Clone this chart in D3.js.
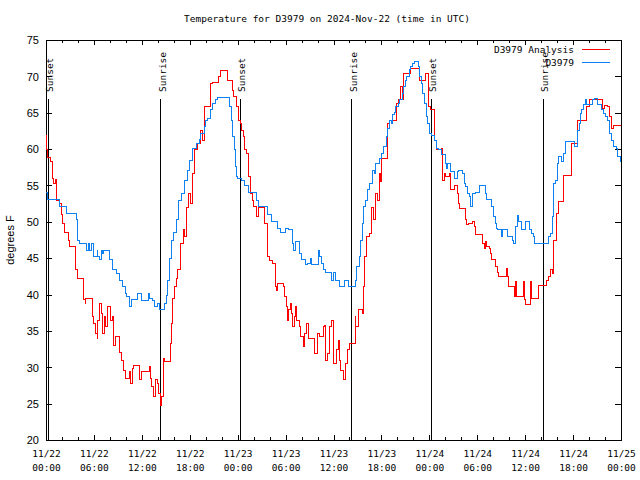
<!DOCTYPE html>
<html>
<head>
<meta charset="utf-8">
<script src="https://cdn.jsdelivr.net/npm/d3@7"></script>
<style>
  html, body { margin: 0; padding: 0; background: #fff; }
  svg { display: block; }
</style>
</head>
<body>
<svg id="chart" width="640" height="480"></svg>
<script>
// ---------------- DATA ----------------
const titleText = "Temperature for D3979 on 2024-Nov-22 (time in UTC)";
const yAxisLabel = "degrees F";
const seriesNames = ["D3979 Analysis", "D3979"];
const startTime = "2024-11-22T00:00:00Z";
const endTime = "2024-11-25T00:00:00Z";
const yTickValues = [20, 25, 30, 35, 40, 45, 50, 55, 60, 65, 70, 75];

// hours since 11/22 00:00 UTC
const analysisHours = [0,0.1,0.2,0.6,0.8,1.0,1.2,1.3,1.7,1.9,2.1,2.3,2.8,2.9,3.7,3.9,4.75,4.9,5.0,5.8,6.0,6.2,6.4,6.5,6.7,6.9,7.1,7.3,7.5,7.75,8.1,8.3,8.4,8.7,9.25,9.5,9.7,10.0,10.4,10.6,10.8,10.9,11.7,12.0,12.9,13.1,13.2,13.4,13.7,13.9,14.1,14.3,14.5,14.75,14.9,15.6,15.7,15.9,16.1,16.4,16.5,16.8,17.2,17.4,17.6,17.9,18.1,18.3,18.6,18.95,19.4,19.6,19.8,20.6,20.9,21.6,21.9,22.7,23.3,23.5,23.8,24.1,24.4,24.5,24.7,24.9,25.1,25.3,25.6,25.8,26.0,26.3,26.6,27.3,27.7,28.0,28.3,28.7,28.9,29.0,29.7,29.9,30.1,30.3,30.4,30.6,30.7,30.9,31.1,31.3,31.4,31.7,31.9,32.2,32.4,32.6,32.9,33.6,34.0,34.2,34.7,34.9,35.0,35.3,35.5,35.8,36.0,36.4,36.6,36.7,36.9,37.3,37.5,37.7,37.8,38.0,38.7,38.8,39.1,39.6,39.7,39.9,40.1,40.5,40.8,41.0,41.2,41.5,41.7,41.9,42.0,42.7,43.0,43.9,44.2,44.4,44.6,44.8,45.7,46.8,47.5,47.9,48.2,48.7,48.9,49.5,49.7,49.9,50.0,50.5,50.7,51.1,51.5,51.7,51.8,52.5,52.7,52.9,53.4,53.6,53.8,54.7,54.9,55.0,55.2,55.5,55.7,55.8,56.3,56.5,56.7,57.7,57.8,57.9,58.7,58.8,58.9,59.8,59.9,60.0,60.7,60.8,61.7,62.7,62.9,63.2,63.4,63.6,63.9,64.2,64.8,65.8,66.6,67.7,68.0,69.7,69.9,70.3,70.5,70.8,71.0,72.0];
const analysisTemps = [61.9,59.9,58.9,58.3,56.0,55.3,55.8,53.0,52.5,51.0,49.8,48.6,47.4,46.6,43.4,42.2,39.3,38.8,39.5,37.0,36.0,34.7,34.0,36.5,38.8,37.4,34.7,37.0,35.6,38.3,36.5,37.0,33.0,34.2,32.1,31.0,29.6,28.5,29.4,27.8,29.8,30.3,28.3,29.4,30.1,28.5,27.3,26.0,28.3,27.8,26.4,24.8,26.0,31.2,30.8,33.3,36.0,39.5,41.1,42.2,43.4,47.0,48.9,48.0,52.0,53.9,52.5,56.7,59.9,60.8,62.6,61.2,65.8,69.0,69.1,70.0,70.8,69.5,68.1,67.2,65.8,64.0,63.5,62.6,61.7,59.9,59.4,56.2,53.9,53.0,52.1,50.7,52.0,49.8,45.2,44.7,44.3,41.1,40.6,41.5,41.1,39.7,38.3,36.5,37.9,38.8,37.4,35.6,37.0,38.3,36.5,35.6,34.2,32.8,34.7,36.0,34.0,31.9,34.7,34.2,35.6,35.8,31.0,31.9,35.6,36.5,30.5,32.4,33.7,31.0,29.6,28.3,30.5,31.9,32.4,33.3,37.0,35.6,37.9,37.4,41.1,45.2,48.0,48.4,52.0,50.3,53.9,53.0,56.7,55.5,58.7,63.5,64.0,66.3,66.8,68.6,66.8,70.4,71.1,69.5,70.4,65.8,65.4,61.2,59.9,60.1,55.7,56.7,56.2,56.7,54.4,55.0,53.9,52.5,51.8,50.3,49.6,49.8,50.0,49.3,48.2,47.0,46.4,47.3,46.6,46.4,45.7,44.8,43.8,43.1,42.5,43.6,42.5,41.1,39.7,41.8,39.7,41.8,39.3,38.6,41.8,39.5,41.3,42.0,42.5,43.4,42.9,47.5,51.2,52.8,56.4,60.8,64.0,65.8,66.8,65.6,66.0,65.8,64.5,62.9,63.2,63.2];

const stationHours = [0,0.2,1.75,2.6,3.8,3.9,4.0,4.25,5.1,5.3,5.5,5.7,5.9,6.4,6.5,6.75,6.9,7.1,7.25,8.0,8.3,8.8,9.25,9.6,9.9,10.1,10.4,10.7,11.4,11.9,12.8,13.0,13.3,13.6,13.9,14.25,14.9,15.1,15.25,15.5,15.7,16.0,16.3,16.6,17.0,17.3,17.7,18.0,18.3,18.8,19.2,19.4,19.8,20.0,20.2,20.6,20.8,20.9,21.2,21.5,23.0,23.2,23.4,23.6,23.7,23.9,24.0,24.5,24.8,24.9,25.4,26.3,26.6,27.7,28.2,29.0,29.4,30.0,30.4,30.9,31.0,31.2,31.8,32.0,32.5,32.7,33.1,33.2,33.3,34.1,34.3,34.5,34.8,35.0,35.7,36.0,36.2,36.8,37.4,37.9,38.7,38.9,39.2,39.4,39.6,39.8,40.0,40.3,40.5,40.9,41.1,41.3,41.7,42.0,42.2,42.6,42.8,43.0,43.2,43.4,43.6,43.8,44.1,44.3,44.6,44.8,45.0,45.2,45.5,45.7,45.9,46.2,46.6,46.8,47.0,47.2,47.4,47.6,47.8,48.0,48.3,48.7,48.9,49.1,49.5,50.0,50.2,50.3,50.7,51.2,51.5,51.7,52.2,52.4,52.5,52.8,53.0,53.2,53.4,53.8,54.3,55.0,55.2,55.8,56.0,56.3,56.4,56.5,57.0,57.1,57.8,58.4,58.6,58.8,59.0,59.2,59.5,60.0,60.6,60.8,61.0,61.2,62.9,63.2,63.4,63.5,63.6,63.8,64.0,64.2,64.5,64.8,65.0,65.1,65.9,66.2,66.6,66.8,66.9,67.1,67.3,67.5,67.7,68.4,68.7,69.1,69.6,69.8,70.0,70.3,70.5,70.8,71.0,71.4,71.6,71.9,72.0];
const stationTemps = [54.1,53.1,52.1,51.1,50.3,49.0,47.5,47.0,46.1,47.0,46.1,47.0,45.2,46.1,45.2,44.8,46.1,45.7,46.1,44.8,43.4,42.9,42.0,41.1,40.2,39.7,38.3,39.3,40.1,39.2,40.1,39.5,39.2,38.3,38.8,38.0,38.8,39.9,42.0,45.0,47.5,48.5,50.3,53.0,53.9,55.7,57.1,58.5,60.1,60.8,61.3,62.2,63.1,64.0,64.2,65.4,65.8,66.3,66.8,67.1,65.8,64.0,61.7,59.9,57.6,56.2,56.0,55.7,55.3,55.0,54.1,53.0,52.1,51.0,50.0,49.1,48.6,49.1,49.0,47.0,46.1,47.3,45.7,44.8,44.1,44.3,45.0,44.3,44.1,46.1,45.2,44.3,43.4,43.1,42.0,43.1,42.0,41.1,42.0,41.1,42.0,43.8,45.2,47.5,49.8,52.1,53.0,54.4,55.3,57.1,56.7,58.0,58.7,59.4,60.3,61.7,62.9,64.0,63.5,64.7,65.1,65.8,66.3,66.8,67.7,68.6,69.5,70.0,70.9,71.3,71.8,72.0,71.3,70.0,69.0,67.7,66.3,64.5,63.5,62.2,61.9,61.2,60.1,59.9,59.2,58.0,57.4,58.0,56.9,56.0,56.9,57.1,56.7,55.3,54.8,53.9,53.5,52.1,53.9,54.1,55.0,53.9,53.1,52.1,50.7,49.8,49.1,49.0,48.0,49.0,48.0,47.5,47.0,49.3,50.9,50.0,49.0,50.0,49.0,48.4,48.0,47.0,48.0,48.4,50.7,53.0,55.3,55.7,58.0,59.0,58.3,59.4,60.3,61.0,61.0,60.3,62.6,63.5,64.9,65.4,66.1,66.8,66.1,66.8,67.0,66.1,65.4,64.9,64.5,64.0,62.2,61.2,60.3,60.1,59.0,58.3,58.3];

const sunEventLabels = ["Sunset", "Sunrise", "Sunset", "Sunrise", "Sunset", "Sunrise"];
const sunEventHours = [0.29, 14.36, 24.33, 38.28, 48.25, 62.27];

// ---------------- CHART ----------------
const svg = d3.select("#chart");
const W = 640, H = 480;
const plotL = 46, plotR = 621, plotT = 40, plotB = 440;
const monoFont = "'DejaVu Sans Mono', 'Liberation Mono', monospace";
const sansFont = "'Liberation Sans', Arial, sans-serif";
const redColor = "#ff0000";
const blueColor = "#0f80f0";

svg.append("rect").attr("width", W).attr("height", H).attr("fill", "#fff");

const t0 = new Date(startTime), t1 = new Date(endTime);
const hourToDate = h => new Date(t0.getTime() + h * 3600e3);

const x = d3.scaleUtc().domain([t0, t1]).range([plotL, plotR]);
const y = d3.scaleLinear().domain([20, 75]).range([plotB, plotT]);

const majorTicks = d3.utcHour.every(6).range(t0, new Date(t1.getTime() + 1));
const minorTicks = d3.utcHour.every(2).range(t0, new Date(t1.getTime() + 1));

function styleAxis(g) {
  g.select(".domain").remove();
  g.selectAll("line").attr("stroke", "#000").attr("shape-rendering", "crispEdges");
}

// minor x ticks (bottom & top)
svg.append("g").attr("transform", `translate(0,${plotB})`)
  .call(d3.axisBottom(x).tickValues(minorTicks).tickSize(-3).tickFormat(""))
  .call(styleAxis);
svg.append("g").attr("transform", `translate(0,${plotT})`)
  .call(d3.axisTop(x).tickValues(minorTicks).tickSize(-3).tickFormat(""))
  .call(styleAxis);

// major x ticks bottom with two-line labels
const fmtDate = d3.utcFormat("%m/%d");
const fmtTime = d3.utcFormat("%H:%M");
const xb = svg.append("g").attr("transform", `translate(0,${plotB})`)
  .call(d3.axisBottom(x).tickValues(majorTicks).tickSize(-5).tickPadding(0).tickFormat(""))
  .call(styleAxis);
xb.selectAll(".tick").each(function(d) {
  const t = d3.select(this).append("text")
    .attr("fill", "#000").attr("font-family", monoFont).attr("font-size", "9.5px")
    .attr("text-anchor", "middle");
  t.append("tspan").attr("x", 0).attr("y", 17).text(fmtDate(d));
  t.append("tspan").attr("x", 0).attr("y", 31).text(fmtTime(d));
});
svg.append("g").attr("transform", `translate(0,${plotT})`)
  .call(d3.axisTop(x).tickValues(majorTicks).tickSize(-5).tickFormat(""))
  .call(styleAxis);

// y ticks
const yl = svg.append("g").attr("transform", `translate(${plotL},0)`)
  .call(d3.axisLeft(y).tickValues(yTickValues).tickSize(-6).tickPadding(7).tickFormat(d3.format("d")))
  .call(styleAxis);
yl.selectAll("text").attr("font-family", sansFont).attr("font-size", "11px").attr("fill", "#000")
  .attr("dy", "0.34em");
svg.append("g").attr("transform", `translate(${plotR},0)`)
  .call(d3.axisRight(y).tickValues(yTickValues).tickSize(-6).tickFormat(""))
  .call(styleAxis);

// frame
svg.append("rect").attr("x", plotL).attr("y", plotT)
  .attr("width", plotR - plotL).attr("height", plotB - plotT)
  .attr("fill", "none").attr("stroke", "#000").attr("shape-rendering", "crispEdges");

// sunrise / sunset lines
const sunG = svg.append("g");
sunEventHours.forEach((h, i) => {
  const sx = x(hourToDate(h));
  sunG.append("line").attr("x1", sx).attr("x2", sx).attr("y1", 99).attr("y2", plotB)
    .attr("stroke", "#000").attr("shape-rendering", "crispEdges");
  sunG.append("text")
    .attr("transform", `translate(${sx + 5},92) rotate(-90)`)
    .attr("font-family", monoFont).attr("font-size", "9.5px").attr("fill", "#000")
    .attr("text-anchor", "start")
    .text(sunEventLabels[i]);
});

// series
const line = d3.line()
  .x(d => x(hourToDate(d[0])))
  .y(d => y(d[1]))
  .curve(d3.curveStepAfter);

const analysisData = analysisHours.map((h, i) => [h, analysisTemps[i]]);
const stationData = stationHours.map((h, i) => [h, stationTemps[i]]);

svg.append("path").datum(analysisData).attr("d", line)
  .attr("fill", "none").attr("stroke", redColor).attr("stroke-width", 1)
  .attr("shape-rendering", "crispEdges");
svg.append("path").datum(stationData).attr("d", line)
  .attr("fill", "none").attr("stroke", blueColor).attr("stroke-width", 1)
  .attr("shape-rendering", "crispEdges");

// legend
const legendColors = [redColor, blueColor];
seriesNames.forEach((name, i) => {
  const ly = 50 + i * 13;
  svg.append("text").attr("x", 574).attr("y", ly).attr("dy", "0.35em")
    .attr("text-anchor", "end").attr("font-family", monoFont).attr("font-size", "9.5px")
    .attr("fill", "#000").text(name);
  svg.append("line").attr("x1", 582).attr("x2", 610).attr("y1", ly - 0.5).attr("y2", ly - 0.5)
    .attr("stroke", legendColors[i]).attr("shape-rendering", "crispEdges");
});

// title
svg.append("text").attr("x", 327).attr("y", 19).attr("dy", "0.35em")
  .attr("text-anchor", "middle").attr("font-family", monoFont).attr("font-size", "9.5px")
  .attr("fill", "#000").text(titleText);

// y axis label
svg.append("text").attr("transform", `translate(14,240) rotate(-90)`)
  .attr("text-anchor", "middle").attr("font-family", sansFont).attr("font-size", "11px")
  .attr("fill", "#000").text(yAxisLabel);
</script>
</body>
</html>
